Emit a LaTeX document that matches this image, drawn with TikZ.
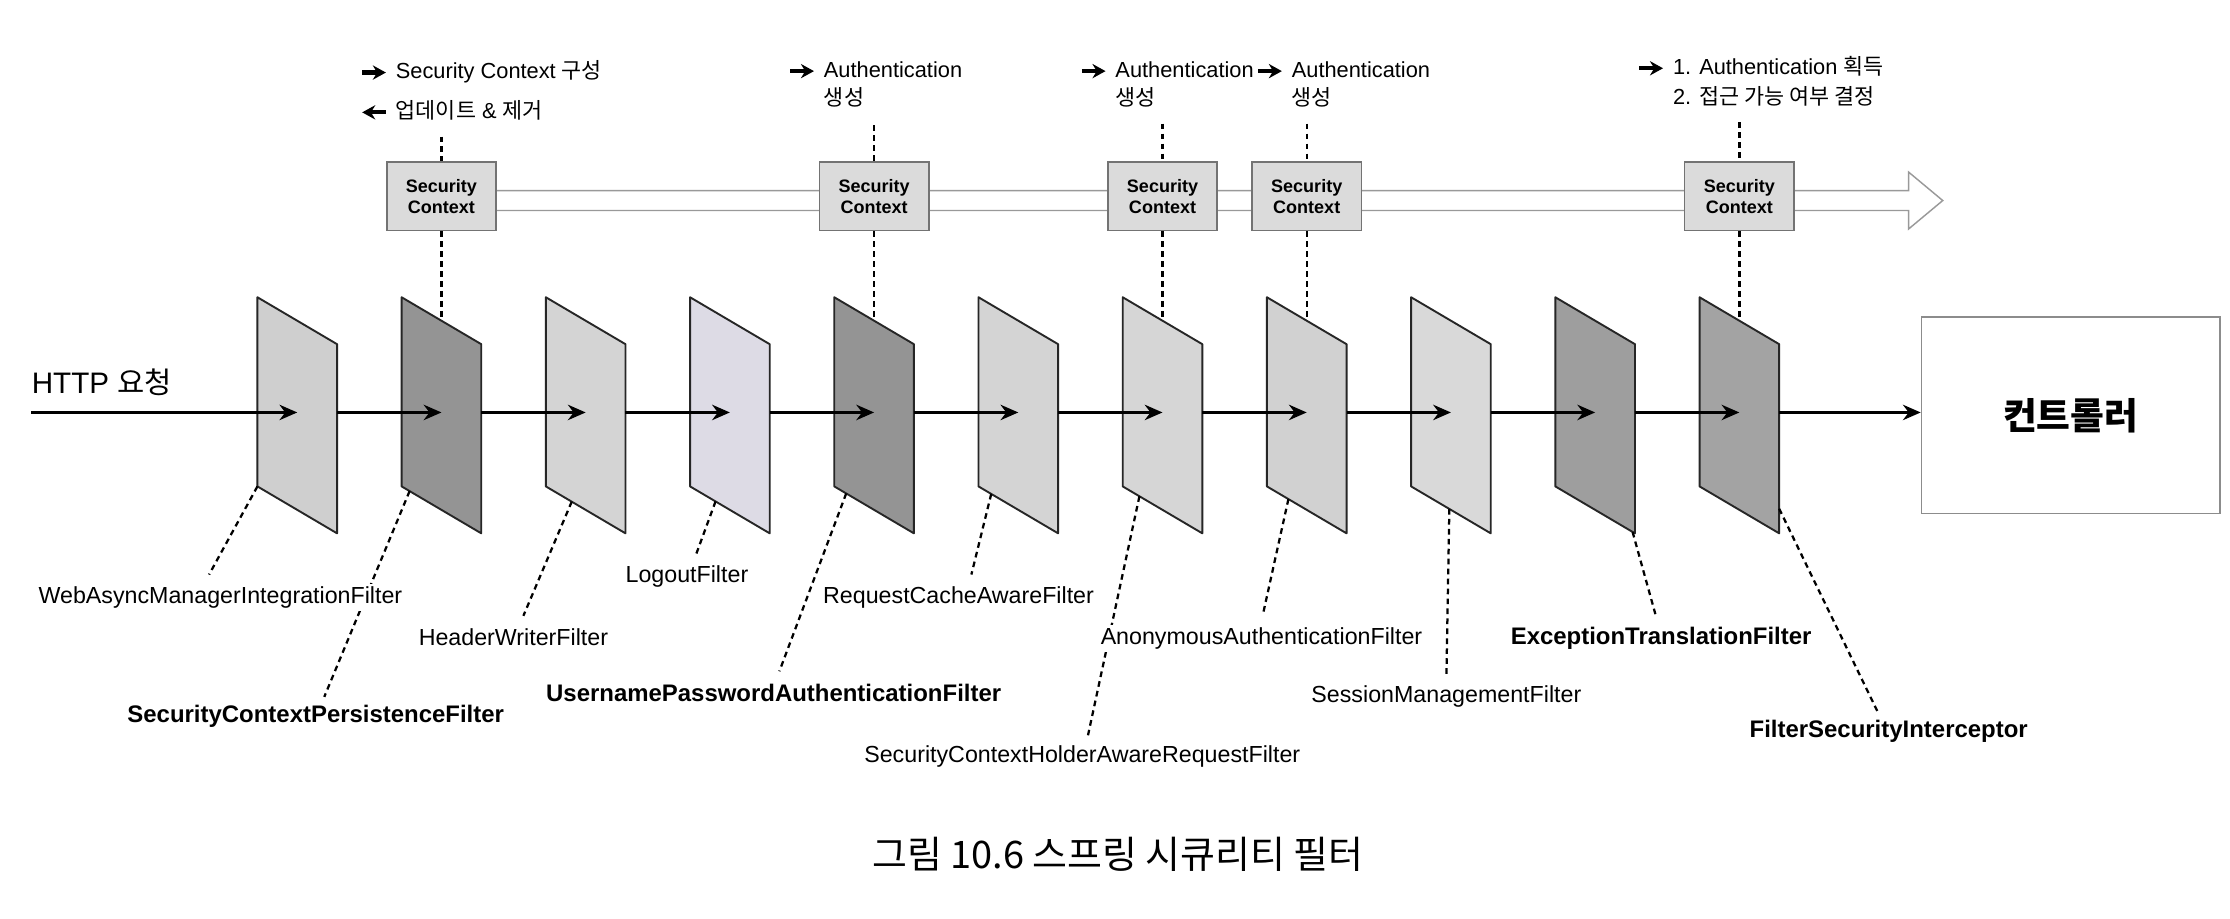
\documentclass[tikz,border=0pt]{standalone}
\usepackage{fontspec}
\setmainfont{Liberation Sans}
\newfontfamily\kr{Noto Sans CJK KR}
\usetikzlibrary{arrows.meta,calc}
\definecolor{logoutc}{RGB}{221,219,229}
\begin{document}
\begin{tikzpicture}[x=0.6pt,y=-0.6pt,
  facebox/.style={draw=black!85,line width=0.8pt,line join=round},
  flow/.style={line width=1.1pt,-{Stealth[length=7.5pt,width=6.5pt]}},
  leader/.style={line width=0.95pt,dash pattern=on 2.4pt off 1.8pt},
  scbox/.style={draw=black!55,fill=black!14,line width=0.7pt,minimum width=46.2pt,minimum height=28.8pt,inner sep=0pt,align=center,font=\bfseries\fontsize{7.6}{8.8}\selectfont},
  flabel/.style={fill=white,inner sep=1pt,font=\fontsize{9.8}{11}\selectfont},
  fblabel/.style={fill=white,inner sep=1pt,font=\bfseries\fontsize{10.1}{11}\selectfont},
  ann/.style={anchor=west,inner sep=0pt,text height=7pt,text depth=2pt,font=\fontsize{9.2}{11}\selectfont},
  annarrow/.style={line width=1.8pt,-{Stealth[length=5.5pt,width=6pt]}},
  hollow/.style={draw=black!40,fill=white,line width=0.6pt}
]
\useasboundingbox (0,0) rectangle (1568,646);
\fill[white] (0,0) rectangle (1568,646);

% filter geometry
\foreach \i/\L in {1/181,2/282.4,3/383.8,4/485.2,5/586.6,6/688,7/789.4,8/890.8,9/992.2,10/1093.6,11/1195}{
  \coordinate (f\i tl) at (\L,209);
  \coordinate (f\i tr) at (\L+56,242);
  \coordinate (f\i br) at (\L+56,375);
  \coordinate (f\i bl) at (\L,342);
  \coordinate (f\i c) at (\L+28,290);
  \coordinate (f\i e) at (\L+56,290);
  \coordinate (f\i t) at (\L+28,225.5);
}

% hollow flow arrow of the security context
\draw[hollow] (310,134) -- (1342,134) -- (1342,121) -- (1366,141) -- (1342,161) -- (1342,148) -- (310,148);

% security context boxes
\foreach \j/\x/\ty/\f in {1/310.4/96/2,2/614.6/88/5,3/817.4/87/7,4/918.8/87/8,5/1223/86/11}{
  \node[scbox] (sc\j) at (\x,138) {Security\\Context};
  \coordinate (sc\j top) at (\x,\ty);
  \draw[leader] (sc\j top) -- (sc\j.north);
  \draw[leader] (sc\j.south) -- (f\f t);
}

% annotations
\node[ann] (a1) at (278,51) {Security Context {\kr 구성}};
\node[ann] (a2) at (278,79) {{\kr 업데이트} \& {\kr 제거}};
\draw[annarrow] ([xshift=-14pt]a1.west) -- ([xshift=-4pt]a1.west);
\draw[annarrow] ([xshift=-4pt]a2.west) -- ([xshift=-14pt]a2.west);

\node[ann] (a3) at (579,50) {Authentication};
\node[ann] (a4) at (579,70) {\kr 생성};
\draw[annarrow] ([xshift=-14pt]a3.west) -- ([xshift=-4pt]a3.west);

\node[ann] (a5) at (784,50) {Authentication};
\node[ann] (a6) at (784,70) {\kr 생성};
\draw[annarrow] ([xshift=-14pt]a5.west) -- ([xshift=-4pt]a5.west);

\node[ann] (a7) at (908,50) {Authentication};
\node[ann] (a8) at (908,70) {\kr 생성};
\draw[annarrow] ([xshift=-14pt]a7.west) -- ([xshift=-4pt]a7.west);

\node[ann] (a9) at (1176,48) {1. Authentication {\kr 획득}};
\node[ann] (a10) at (1176,69) {2. {\kr 접근 가능 여부 결정}};
\draw[annarrow] ([xshift=-14pt]a9.west) -- ([xshift=-4pt]a9.west);

% request entry
\node[anchor=west,inner sep=0pt,font=\fontsize{12.5}{14}\selectfont] (httptxt) at (22,269) {HTTP {\kr 요청}};
\coordinate (http) at (22,290);

% filters and flow arrows
\foreach \i/\c/\p in {1/black!19/http,2/black!42/f1e,3/black!17/f2e,4/logoutc/f3e,5/black!42/f4e,6/black!17/f5e,7/black!16/f6e,8/black!18/f7e,9/black!15/f8e,10/black!38/f9e,11/black!36/f10e}{
  \draw[facebox,fill=\c] (f\i tl) -- (f\i tr) -- (f\i br) -- (f\i bl) -- cycle;
  \draw[flow] (\p) -- (f\i c);
}

% controller
\node[draw=black!45,line width=0.6pt,minimum width=126pt,minimum height=82.8pt,font=\kr\bfseries\fontsize{15.5}{18}\selectfont] (ctrl) at (1456,292) {컨트롤러};
\draw[flow] (f11e) -- (f11e -| ctrl.west);

% leader lines
\coordinate (s1) at ($(f1bl)!0!(f1br)$);
\coordinate (s2) at ($(f2bl)!0.1!(f2br)$);
\coordinate (s3) at ($(f3bl)!0.325!(f3br)$);
\coordinate (s4) at ($(f4bl)!0.32!(f4br)$);
\coordinate (s5) at ($(f5bl)!0.15!(f5br)$);
\coordinate (s6) at ($(f6bl)!0.16!(f6br)$);
\coordinate (s7) at ($(f7bl)!0.21!(f7br)$);
\coordinate (s8) at ($(f8bl)!0.27!(f8br)$);
\coordinate (s9) at ($(f9bl)!0.48!(f9br)$);
\coordinate (s10) at ($(f10bl)!0.97!(f10br)$);
\coordinate (s11) at ($(f11tr)!0.87!(f11br)$);
\coordinate (e1) at (147,404);
\coordinate (e2) at (228,490);
\coordinate (e3) at (368,433);
\coordinate (e4) at (489,391);
\coordinate (e5) at (548,472);
\coordinate (e6) at (683,404);
\coordinate (e7) at (765,517);
\coordinate (e8) at (888,432);
\coordinate (e9) at (1017,476);
\coordinate (e10) at (1164,432);
\coordinate (e11) at (1320,500);
\foreach \i in {1,...,11}{
  \draw[leader] (s\i) -- (e\i);
}

% filter names
\node[flabel] (l1) at (155,420) {WebAsyncManagerIntegrationFilter};
\node[fblabel] (l2) at (222,504) {SecurityContextPersistenceFilter};
\node[flabel] (l3) at (361,448) {HeaderWriterFilter};
\node[flabel] (l4) at (483,405) {LogoutFilter};
\node[fblabel] (l5) at (544,487) {UsernamePasswordAuthenticationFilter};
\node[flabel] (l6) at (674,420) {RequestCacheAwareFilter};
\node[flabel] (l7) at (761,532) {SecurityContextHolderAwareRequestFilter};
\node[flabel] (l8) at (887,449) {AnonymousAuthenticationFilter};
\node[flabel] (l9) at (1017,490) {SessionManagementFilter};
\node[fblabel] (l10) at (1168,449) {ExceptionTranslationFilter};
\node[fblabel] (l11) at (1328,514) {FilterSecurityInterceptor};

% caption
\node[font=\kr\fontsize{16}{18}\selectfont] (cap) at (786,601) {그림 10.6 스프링 시큐리티 필터};
\end{tikzpicture}
\end{document}
